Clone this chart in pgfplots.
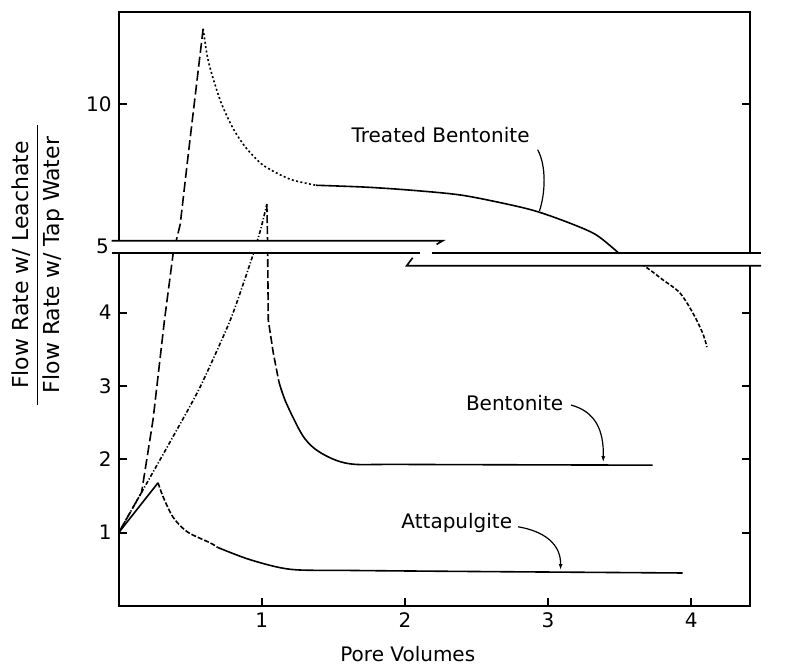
\documentclass[border=0pt]{standalone}
\usepackage{pgfplots}
\pgfplotsset{compat=1.18}
\usepackage{fontspec}
\setmainfont{DejaVu Sans}
\usetikzlibrary{arrows.meta}
\begin{document}
\begin{tikzpicture}
\useasboundingbox (0,0) rectangle (398.5pt,333.5pt);
\begin{axis}[
  at={(59.35pt,30.5pt)}, anchor=south west,
  scale only axis, width=315.6pt, height=297pt,
  xmin=0, xmax=4.41, ymin=0, ymax=13.42,
  y coord trafo/.code={\pgfmathparse{(#1>5)*(5+(#1-5)*0.368)+(#1<=5)*(#1)}},
  y coord inv trafo/.code={\pgfmathparse{(#1>5)*(5+(#1-5)/0.368)+(#1<=5)*(#1)}},
  xtick={1,2,3,4}, xticklabels={1,2,3,4}, xtick pos=bottom,
  ytick={1,2,3,4,10}, yticklabels={1,2,3,4,10},
  tick align=inside, major tick length=4pt,
  tick style={line width=0.9pt, black},
  axis line style={line width=0.9pt},
  clip=false,
  /pgf/number format/assume math mode=true,
  tick label style={font=\fontsize{10}{12}\selectfont},
  xlabel={Pore Volumes},
  xlabel style={at={(axis description cs:0.458,-0.081)}, anchor=center, font=\fontsize{10}{12}\selectfont},
  ylabel={\renewcommand{\arraystretch}{1.15}\begin{tabular}{c}Flow Rate w/ Leachate\\\hline Flow Rate w/ Tap Water\end{tabular}},
  ylabel style={at={(axis description cs:-0.128,0.574)}, anchor=center, font=\fontsize{11}{13}\selectfont},
]
% Treated Bentonite
\addplot[black, line width=0.8pt, dash pattern=on 5pt off 2pt] coordinates {(0,1) (0.16,1.55) (0.24,2.54) (0.32,3.9) (0.38,4.8) (0.43,5.56) (0.485,8.1) (0.59,12.8)};
\addplot[black, line width=0.8pt, dash pattern=on 1pt off 1.2pt, smooth, tension=0.5] coordinates {(0.59,12.8) (0.62,11.75) (0.66,10.95) (0.72,10.0) (0.80,9.1) (0.88,8.45) (0.96,7.98) (1.03,7.67) (1.2,7.22) (1.38,7.0)};
\addplot[black, line width=0.8pt, smooth, tension=0.5] coordinates {(1.38,7.0) (1.73,6.93) (2.06,6.81) (2.40,6.63) (2.75,6.26) (2.94,6.0) (3.17,5.56) (3.34,5.15) (3.5,4.8)};
\addplot[black, line width=0.8pt, dash pattern=on 2pt off 1pt, smooth, tension=0.5] coordinates {(3.5,4.8) (3.66,4.65) (3.80,4.45) (3.92,4.27) (4.01,4.0) (4.08,3.72) (4.11,3.53)};
% Bentonite
\addplot[black, line width=0.8pt, dash pattern=on 2pt off 1pt on 0.6pt off 1pt, smooth, tension=0.4] coordinates {(0,1) (0.16,1.55) (0.38,2.31) (0.57,2.99) (0.78,3.9) (0.92,4.68) (0.99,5.33) (1.035,6.3)};
\addplot[black, line width=0.8pt, dash pattern=on 4pt off 1.5pt] coordinates {(1.035,6.3) (1.04,5.0) (1.045,3.9) (1.08,3.45) (1.12,3.05)};
\addplot[black, line width=0.8pt, smooth, tension=0.5] coordinates {(1.12,3.05) (1.17,2.77) (1.29,2.31) (1.41,2.09) (1.61,1.94) (2.0,1.93) (3.73,1.92)};
% Attapulgite
\addplot[black, line width=0.8pt] coordinates {(0,1) (0.275,1.68)};
\addplot[black, line width=0.8pt, dash pattern=on 2.5pt off 1pt, smooth, tension=0.5] coordinates {(0.275,1.68) (0.31,1.49) (0.38,1.21) (0.48,1.01) (0.64,0.86) (0.69,0.80)};
\addplot[black, line width=0.8pt, smooth, tension=0.5] coordinates {(0.69,0.80) (0.92,0.63) (1.2,0.50) (1.6,0.485) (2.5,0.47) (3.94,0.45)};
% axis break
\fill[white] (axis cs:-0.05,4.816) rectangle (axis cs:2.24,4.98);
\fill[white] (axis cs:2.03,4.639) rectangle (axis cs:4.489,4.816);
\draw[line width=0.8pt] (axis cs:-0.05,4.98) -- (axis cs:2.264,4.98) -- (axis cs:2.221,4.93);
\draw[line width=0.8pt] (axis cs:-0.05,4.816) -- (axis cs:2.103,4.816);
\draw[line width=0.8pt] (axis cs:2.186,4.816) -- (axis cs:4.489,4.816);
\draw[line width=0.8pt] (axis cs:2.054,4.748) -- (axis cs:2.012,4.639) -- (axis cs:4.489,4.639);
\node[anchor=east, font=\fontsize{10}{12}\selectfont] at (axis cs:-0.02,4.9) {5};
% labels
\node[font=\fontsize{10}{12}\selectfont] at (axis cs:2.249,8.875) {Treated Bentonite};
\draw[line width=0.6pt] (axis cs:2.927,8.32) .. controls (axis cs:2.99,7.7) and (axis cs:2.98,6.7) .. (axis cs:2.94,6.05);
\node[font=\fontsize{10}{12}\selectfont] at (axis cs:2.766,2.77) {Bentonite};
\draw[line width=0.6pt, -{Latex[length=3pt,width=2pt]}] (axis cs:3.16,2.74) .. controls (axis cs:3.33,2.65) and (axis cs:3.39,2.4) .. (axis cs:3.385,1.96);
\node[font=\fontsize{10}{12}\selectfont] at (axis cs:2.362,1.132) {Attapulgite};
\draw[line width=0.6pt, -{Latex[length=3pt,width=2pt]}] (axis cs:2.79,1.08) .. controls (axis cs:2.97,1.02) and (axis cs:3.09,0.85) .. (axis cs:3.087,0.49);
\end{axis}
\end{tikzpicture}
\end{document}
